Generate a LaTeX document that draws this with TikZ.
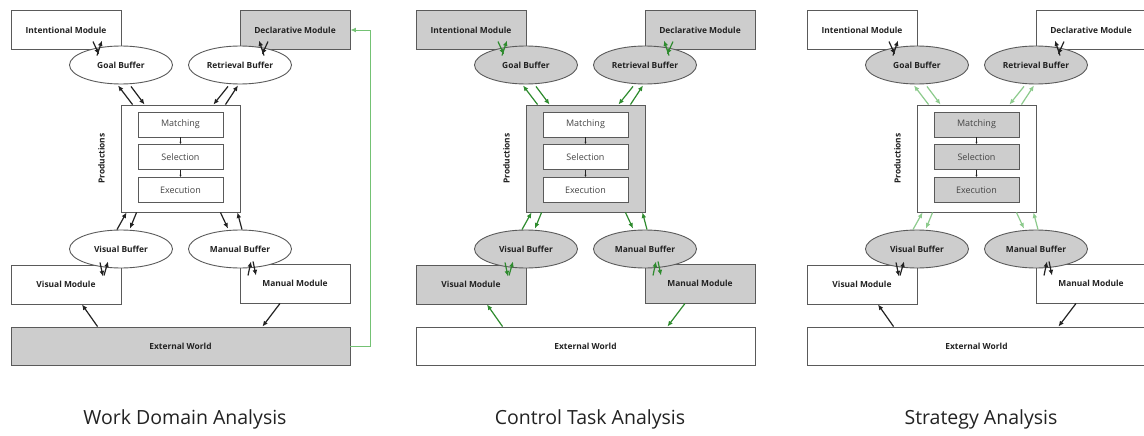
\documentclass[tikz,border=0pt]{standalone}
\usepackage{fontspec}
\setmainfont{Open Sans}
\usetikzlibrary{arrows.meta,calc,shapes.geometric}

\definecolor{edge}{HTML}{5A5A5A}
\definecolor{shade}{HTML}{CDCDCD}
\definecolor{ink}{HTML}{222222}
\definecolor{softink}{HTML}{444444}
\definecolor{leaf}{HTML}{2E8B2E}
\definecolor{paleleaf}{HTML}{8DCB8D}
\definecolor{loopgreen}{HTML}{74C274}

\tikzset{
  tip/.style={-{Latex[length=5.5pt,width=4.8pt]}},
  modbox/.style={draw=edge, line width=0.9pt, rectangle, minimum width=110,
    minimum height=39, inner sep=0, text=ink,
    font=\bfseries\fontsize{8.4}{10}\selectfont},
  bufnode/.style={draw=edge, line width=0.9pt, ellipse, minimum width=103,
    minimum height=38, inner sep=0, text=ink, fill=buffill,
    font=\bfseries\fontsize{8.4}{10}\selectfont},
  prodnode/.style={draw=edge, line width=0.9pt, rectangle, minimum width=119,
    minimum height=107, inner sep=0, prodfill},
  stagenode/.style={draw=edge, line width=0.9pt, rectangle, minimum width=85,
    minimum height=25, inner sep=0, text=softink, stagefill,
    font=\fontsize{9}{11}\selectfont},
  prodlabel/.style={rotate=90, text=ink, inner sep=0,
    font=\bfseries\fontsize{8.4}{10}\selectfont},
  worldnode/.style={draw=edge, line width=0.9pt, rectangle, minimum width=339,
    minimum height=38, inner sep=0, text=ink, worldfill,
    font=\bfseries\fontsize{8.4}{10}\selectfont},
  caption/.style={text=ink, inner sep=0, font=\fontsize{19.5}{23}\selectfont},
  stagearrow/.style={-{Latex[length=2.2pt,width=2.2pt]}, line width=0.6pt, ink},
  % per-panel looks, white boxes and black arrows unless a panel says otherwise
  intfill/.style={fill=white}, declfill/.style={fill=white},
  visfill/.style={fill=white}, manfill/.style={fill=white},
  prodfill/.style={fill=white}, stagefill/.style={fill=white},
  worldfill/.style={fill=white},
  bparrow/.style={tip, line width=1.2pt, ink},
  mbarrow/.style={tip, line width=1.2pt, ink},
  wdarrow/.style={tip, line width=1.2pt, ink},
}
\colorlet{buffill}{white}

% One ACT-R architecture panel; #1 is a name prefix, #2 the caption
\newcommand\actrpanel[2]{%
  \node[modbox,intfill]  (#1int)  at (66,30)      {Intentional Module};
  \node[modbox,declfill] (#1decl) at (295,30)     {Declarative Module};
  \node[modbox,visfill]  (#1vmod) at (66,284.5)   {Visual Module};
  \node[modbox,manfill]  (#1mmod) at (295,283.5)  {Manual Module};
  \node[bufnode] (#1goal) at (121,65)  {Goal Buffer};
  \node[bufnode] (#1retr) at (240,65)  {Retrieval Buffer};
  \node[bufnode] (#1vbuf) at (121,249) {Visual Buffer};
  \node[bufnode] (#1mbuf) at (240,249) {Manual Buffer};
  \node[prodnode]  (#1prod)  at (180.5,158.5) {};
  \node[stagenode] (#1match) at (180.5,124.5) {Matching};
  \node[stagenode] (#1sel)   at (180.5,157)   {Selection};
  \node[stagenode] (#1exec)  at (180.5,190)   {Execution};
  \node[prodlabel] (#1plabel) at ($(#1prod.west)+(-19,0)$) {Productions};
  \node[worldnode] (#1world) at (180.5,346) {External World};
  \node[caption] (#1cap) at (185,419) {#2};
  % production cycle
  \draw[stagearrow] (#1match) -- (#1sel);
  \draw[stagearrow] (#1sel) -- (#1exec);
  % buffers <-> productions
  \draw[bparrow] ($(#1prod.north west)+(12,0)$) -- ($(#1goal.south)+(-3,1)$);
  \draw[bparrow] ($(#1goal.south)+(10,2)$) -- ($(#1prod.north west)+(24,0)$);
  \draw[bparrow] ($(#1retr.south)+(-12,2)$) -- ($(#1prod.north east)+(-27,0)$);
  \draw[bparrow] ($(#1prod.north east)+(-15,0)$) -- ($(#1retr.south)+(-2,1)$);
  \draw[bparrow] ($(#1vbuf.north)+(-4,0)$) -- ($(#1prod.south west)+(6,0)$);
  \draw[bparrow] ($(#1prod.south west)+(16,0)$) -- ($(#1vbuf.north)+(9,-1)$);
  \draw[bparrow] ($(#1prod.south east)+(-20,0)$) -- ($(#1mbuf.north)+(-12,-1)$);
  \draw[bparrow] ($(#1mbuf.north)+(2,0)$) -- ($(#1prod.south east)+(-3,0)$);
  % modules <-> buffers
  \draw[mbarrow] ($(#1goal.north)+(-28,-4)$) -- ($(#1goal.north)+(-22,9)$);
  \draw[mbarrow] ($(#1goal.north)+(-24,10)$) -- ($(#1goal.north)+(-19,-5)$);
  \draw[mbarrow] ($(#1retr.north)+(24,10)$) -- ($(#1retr.north)+(19,-5)$);
  \draw[mbarrow] ($(#1retr.north)+(28,-4)$) -- ($(#1retr.north)+(22,9)$);
  \draw[mbarrow] ($(#1vbuf.south)+(-17,7)$) -- ($(#1vbuf.south)+(-13,-7)$);
  \draw[mbarrow] ($(#1vbuf.south)+(-21,-6)$) -- ($(#1vbuf.south)+(-18,8)$);
  \draw[mbarrow] ($(#1mbuf.south)+(8,7)$) -- ($(#1mbuf.south)+(11,-7)$);
  \draw[mbarrow] ($(#1mbuf.south)+(13,-7)$) -- ($(#1mbuf.south)+(16,7)$);
  % world <-> perceptual / motor modules
  \draw[wdarrow] ($(#1world.north west)+(87,0)$) -- ($(#1vmod.south)+(16,0)$);
  \draw[wdarrow] ($(#1mmod.south)+(-15,0)$) -- ($(#1world.north east)+(-88,0)$);
}

\begin{document}
\begin{tikzpicture}[x=1pt,y=-1pt]
\useasboundingbox (0,0) rectangle (1144,436);
\clip (0,0) rectangle (1144,436);
\fill[white] (0,0) rectangle (1144,436);

% Work domain analysis
\begin{scope}[declfill/.style={fill=shade}, worldfill/.style={fill=shade}]
  \actrpanel{wd}{Work Domain Analysis}
  \draw[tip, line width=0.9pt, loopgreen] (wdworld.east) -- ++(20,0) |- (wddecl.east);
\end{scope}

% Control task analysis
\begin{scope}[shift={(405,0)},
  intfill/.style={fill=shade}, declfill/.style={fill=shade},
  visfill/.style={fill=shade}, manfill/.style={fill=shade},
  prodfill/.style={fill=shade},
  bparrow/.style={tip, line width=1.2pt, leaf},
  mbarrow/.style={tip, line width=1.2pt, leaf},
  wdarrow/.style={tip, line width=1.2pt, leaf}]
  \colorlet{buffill}{shade}
  \actrpanel{ct}{Control Task Analysis}
\end{scope}

% Strategy analysis
\begin{scope}[shift={(796,0)},
  stagefill/.style={fill=shade},
  bparrow/.style={tip, line width=1.2pt, paleleaf}]
  \colorlet{buffill}{shade}
  \actrpanel{sa}{Strategy Analysis}
\end{scope}
\end{tikzpicture}
\end{document}
